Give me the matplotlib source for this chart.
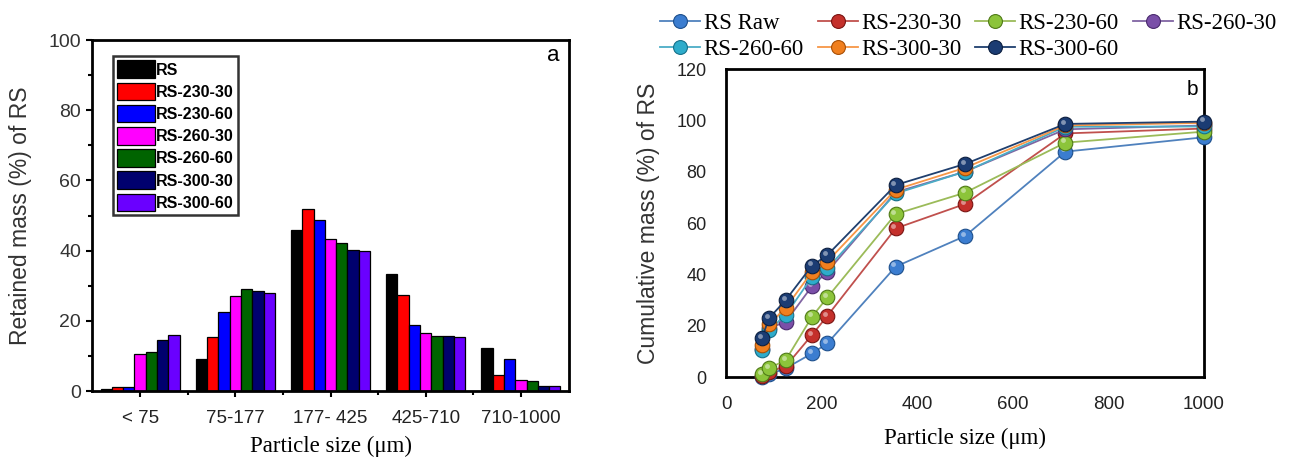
import numpy as np
import matplotlib
matplotlib.use("Agg")
import matplotlib.pyplot as plt
import matplotlib.transforms as mtransforms
from matplotlib.ticker import MultipleLocator, FixedLocator

SANS = "Liberation Sans"
SERIF = "Liberation Serif"

# ---------------- data: panel a (retained mass, %) ----------------
size_classes = ["< 75", "75-177", "177- 425", "425-710", "710-1000"]
bar_series = ["RS", "RS-230-30", "RS-230-60", "RS-260-30", "RS-260-60", "RS-300-30", "RS-300-60"]
rs_raw_ret    = [0.5,  9.2, 45.9, 33.3, 12.2]
rs_230_30_ret = [1.0, 15.5, 51.8, 27.3,  4.5]
rs_230_60_ret = [1.0, 22.6, 48.8, 18.9,  9.0]
rs_260_30_ret = [10.5, 27.0, 43.3, 16.5, 3.0]
rs_260_60_ret = [11.0, 29.2, 42.2, 15.7, 2.8]
rs_300_30_ret = [14.5, 28.4, 40.3, 15.7, 1.4]
rs_300_60_ret = [15.9, 27.9, 40.0, 15.3, 1.4]
bar_colors = ["#000000", "#ff0000", "#0000ff", "#ff00ff", "#006400", "#00006e", "#6a00ff"]

# ---------------- data: panel b (cumulative mass, %) ----------------
sieve_um = [75, 90, 125, 180, 212, 355, 500, 710, 1000]
line_series = ["RS Raw", "RS-230-30", "RS-230-60", "RS-260-30", "RS-260-60", "RS-300-30", "RS-300-60"]
cum_rs_raw    = [0.0, 1.0, 3.4,  9.2, 13.1, 43.0, 54.9, 87.8, 93.4]
cum_rs_230_30 = [0.5, 2.0, 4.2, 16.4, 23.8, 57.9, 67.4, 94.9, 96.8]
cum_rs_230_60 = [1.2, 3.4, 6.6, 23.5, 31.0, 63.5, 71.8, 91.3, 95.6]
cum_rs_260_30 = [11.0, 19.0, 21.5, 35.4, 41.0, 72.0, 80.0, 96.5, 98.0]
cum_rs_260_60 = [10.5, 18.3, 24.2, 39.0, 42.3, 71.5, 80.0, 97.5, 97.6]
cum_rs_300_30 = [12.5, 20.5, 27.0, 41.0, 45.0, 73.0, 81.5, 98.0, 99.0]
cum_rs_300_60 = [15.1, 22.9, 30.0, 43.4, 47.5, 74.8, 83.0, 98.6, 99.5]
line_colors  = ["#4f81bd", "#c0504d", "#9bbb59", "#8064a2", "#4bacc6", "#f79646", "#1f3f6e"]
marker_faces = ["#3b7dd0", "#c4302b", "#8cc43a", "#7a4fa8", "#2eaccb", "#f07f1e", "#1b3c73"]
marker_edges = ["#1d4f8c", "#7a1412", "#4f7a17", "#4a2a6e", "#16718a", "#a84f05", "#0c1f40"]

W, H = 1311, 462
fig = plt.figure(figsize=(W / 100, H / 100), dpi=100)

# ======================= panel a =======================
axa = fig.add_axes([92 / W, 1 - 391 / H, 477 / W, 351 / H])
retained = [rs_raw_ret, rs_230_30_ret, rs_230_60_ret, rs_260_30_ret,
            rs_260_60_ret, rs_300_30_ret, rs_300_60_ret]
n = len(bar_series)
group_w = 0.83
bw = group_w / n
xc = np.arange(len(size_classes))
for i, (name, vals, col) in enumerate(zip(bar_series, retained, bar_colors)):
    axa.bar(xc - group_w / 2 + bw * (i + 0.5), vals, width=bw, color=col,
            edgecolor="black", linewidth=0.9, label=name)
axa.set_xlim(-0.505, 4.505)
axa.set_ylim(0, 100)
axa.set_xticks(xc)
axa.set_xticklabels(size_classes, fontfamily=SANS, fontsize=13.5, color="#222222")
axa.xaxis.set_minor_locator(FixedLocator(np.arange(0.5, 4.0, 1.0)))
axa.yaxis.set_minor_locator(MultipleLocator(10))
axa.set_yticks([0, 20, 40, 60, 80, 100])
axa.set_yticklabels(["0", "20", "40", "60", "80", "100"], fontfamily=SANS,
                    fontsize=14, color="#333333")
axa.tick_params(axis="both", which="major", direction="out", length=4, width=1.5, pad=4)
axa.tick_params(axis="both", which="minor", direction="out", length=3, width=1.5)
axa.tick_params(axis="x", which="major", pad=10)
for s in axa.spines.values():
    s.set_linewidth(2.0)
axa.set_ylabel("Retained mass (%) of RS", fontfamily=SANS, fontsize=16.5, color="#333333",
               labelpad=12)
axa.set_xlabel("Particle size (\u03bcm)", fontfamily=SERIF, fontsize=16.5, labelpad=6)
axa.text(0.966, 0.955, "a", transform=axa.transAxes, fontfamily=SANS, fontsize=16,
         ha="center", va="center")
leg_a = axa.legend(loc="upper left", bbox_to_anchor=(0.044, 0.953), frameon=True,
                   fancybox=False, edgecolor="#333333", framealpha=1,
                   prop={"family": SANS, "size": 11.5, "weight": "bold"},
                   handlelength=2.4, handleheight=1.3, labelspacing=0.3,
                   handletextpad=0.05, borderpad=0.25, borderaxespad=0)
leg_a.get_frame().set_linewidth(1.8)

# ======================= panel b =======================
axb = fig.add_axes([726 / W, 1 - 377 / H, 478 / W, 308 / H])
cumulative = [cum_rs_raw, cum_rs_230_30, cum_rs_230_60, cum_rs_260_30,
              cum_rs_260_60, cum_rs_300_30, cum_rs_300_60]
hl = mtransforms.ScaledTranslation(-1.6 / 72, 1.6 / 72, fig.dpi_scale_trans)
handles = []
for name, vals, lc, mf, me in zip(line_series, cumulative, line_colors, marker_faces, marker_edges):
    h, = axb.plot(sieve_um, vals, "-", color=lc, linewidth=1.3, marker="o",
                  markersize=10.5, markerfacecolor=mf, markeredgecolor=me,
                  markeredgewidth=0.8, label=name, clip_on=False, zorder=3)
    # small glossy highlight on each sphere-like marker
    axb.plot(sieve_um, vals, linestyle="none", marker="o", markersize=3.5,
             markerfacecolor="white", markeredgecolor="none", alpha=0.45,
             transform=axb.transData + hl, clip_on=False, zorder=3)
    handles.append(h)
axb.set_xlim(0, 1000)
axb.set_ylim(0, 120)
axb.set_xticks([0, 200, 400, 600, 800, 1000])
axb.set_xticklabels(["0", "200", "400", "600", "800", "1000"], fontfamily=SANS,
                    fontsize=13.5, color="#222222")
axb.set_yticks([0, 20, 40, 60, 80, 100, 120])
axb.set_yticklabels(["0", "20", "40", "60", "80", "100", "120"], fontfamily=SANS,
                    fontsize=13, color="#222222")
axb.tick_params(axis="both", length=0)
axb.tick_params(axis="x", pad=14)
axb.tick_params(axis="y", pad=14)
for s in axb.spines.values():
    s.set_linewidth(2.0)
axb.set_ylabel("Cumulative mass (%) of RS", fontfamily=SANS, fontsize=16.5, color="#333333",
               labelpad=12)
axb.set_xlabel("Particle size (\u03bcm)", fontfamily=SERIF, fontsize=16.5, labelpad=10)
axb.text(0.975, 0.935, "b", transform=axb.transAxes, fontfamily=SANS, fontsize=15,
         ha="center", va="center")

# legend filled row by row (matplotlib fills column-major, so reorder)
order = [0, 4, 1, 5, 2, 6, 3]
fig.legend(handles=[handles[k] for k in order], loc="upper left",
           bbox_to_anchor=(660 / W, 1 - 13 / H),
           ncol=4, frameon=False, prop={"family": SERIF, "size": 16.5},
           handlelength=1.75, handletextpad=0.15, columnspacing=0.6,
           labelspacing=0.2, borderpad=0, borderaxespad=0, numpoints=1,
           markerscale=0.95)

fig.savefig("out.png", dpi=100)
